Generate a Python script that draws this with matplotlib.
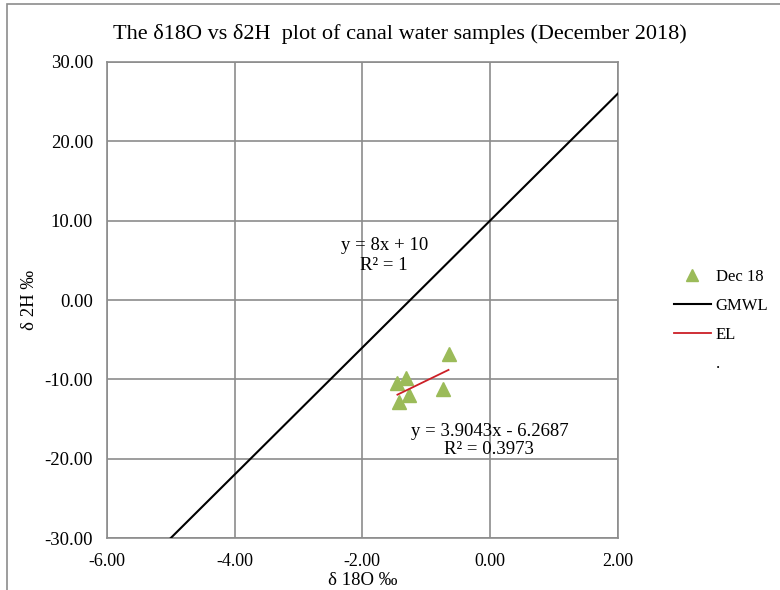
import matplotlib.pyplot as plt
from matplotlib.lines import Line2D
from matplotlib.patches import Rectangle
import numpy as np

plt.rcParams["font.family"] = ["Liberation Serif", "DejaVu Serif"]

# canal water samples, December 2018
d18o = [-1.45, -1.32, -1.27, -1.43, -0.74, -0.65]
d2h = [-10.5, -9.8, -12.0, -12.9, -11.2, -6.8]

# global meteoric water line: y = 8x + 10
gmwl_x = [-5.0, 2.0]
gmwl_slope, gmwl_icpt = 8.0, 10.0

# evaporation line (trendline from the sheet)
el_slope, el_icpt = 3.9043, -6.2687

xticks = [-6, -4, -2, 0, 2]
yticks = [-30, -20, -10, 0, 10, 20, 30]

fig = plt.figure(figsize=(7.8, 5.9), dpi=100)
ax = fig.add_axes([0.137, 0.088, 0.655, 0.807])

grid_col = "#8c8c8c"

gx = np.array(gmwl_x)
ax.plot(gx, gmwl_slope * gx + gmwl_icpt, color="black", lw=1.5, zorder=3)

ex = np.array([min(d18o), max(d18o)])
ax.plot(ex, el_slope * ex + el_icpt, color="#cc1f26", lw=1.3, zorder=5)

ax.plot(d18o, d2h, linestyle="none", marker="^", markersize=10,
        color="#9bbb59", zorder=4)

ax.set_xlim(-6, 2)
ax.set_ylim(-30, 30)
ax.set_xticks(xticks)
ax.set_yticks(yticks)
ax.set_xticklabels([f"{v:.2f}" for v in xticks], fontsize=13)
ax.set_yticklabels([f"{v:.2f}" for v in yticks], fontsize=13.5)
ax.tick_params(axis="x", length=0, pad=11)
ax.tick_params(axis="y", length=0, pad=10)
ax.grid(True, color=grid_col, lw=1.2)
ax.set_axisbelow(True)
for s in ax.spines.values():
    s.set_color(grid_col)
    s.set_linewidth(1.2)

ax.set_xlabel("δ 18O ‰", fontsize=13.5, labelpad=1)
ax.set_ylabel("δ 2H ‰", fontsize=13.5, labelpad=5)

ax.text(-1.65, 6.9, "y = 8x + 10", fontsize=13.5, ha="center", va="center")
ax.text(-1.66, 4.4, "R² = 1", fontsize=13.5, ha="center", va="center")
ax.text(0.0, -16.6, "y = 3.9043x - 6.2687", fontsize=13.5, ha="center", va="center")
ax.text(-0.02, -18.9, "R² = 0.3973", fontsize=13.5, ha="center", va="center")

fig.text(0.513, 0.942, "The δ18O vs δ2H  plot of canal water samples (December 2018)",
         fontsize=16, ha="center", va="center")

handles = [
    Line2D([], [], linestyle="none", marker="^", markersize=9, color="#9bbb59"),
    Line2D([], [], color="black", lw=1.5),
    Line2D([], [], color="#cc1f26", lw=1.3),
    Line2D([], [], linestyle="none"),
]
fig.legend(handles, ["Dec 18", "GMWL", "EL", "."], loc="upper left",
           bbox_to_anchor=(0.845, 0.57), frameon=False, fontsize=12,
           handlelength=2.2, handletextpad=0.3, labelspacing=0.78)

fig.patches.append(Rectangle((0.009, -0.01), 1.2, 1.003, transform=fig.transFigure,
                             fill=False, edgecolor="#8c8c8c", lw=1.2))

fig.savefig("out.png", dpi=100)
